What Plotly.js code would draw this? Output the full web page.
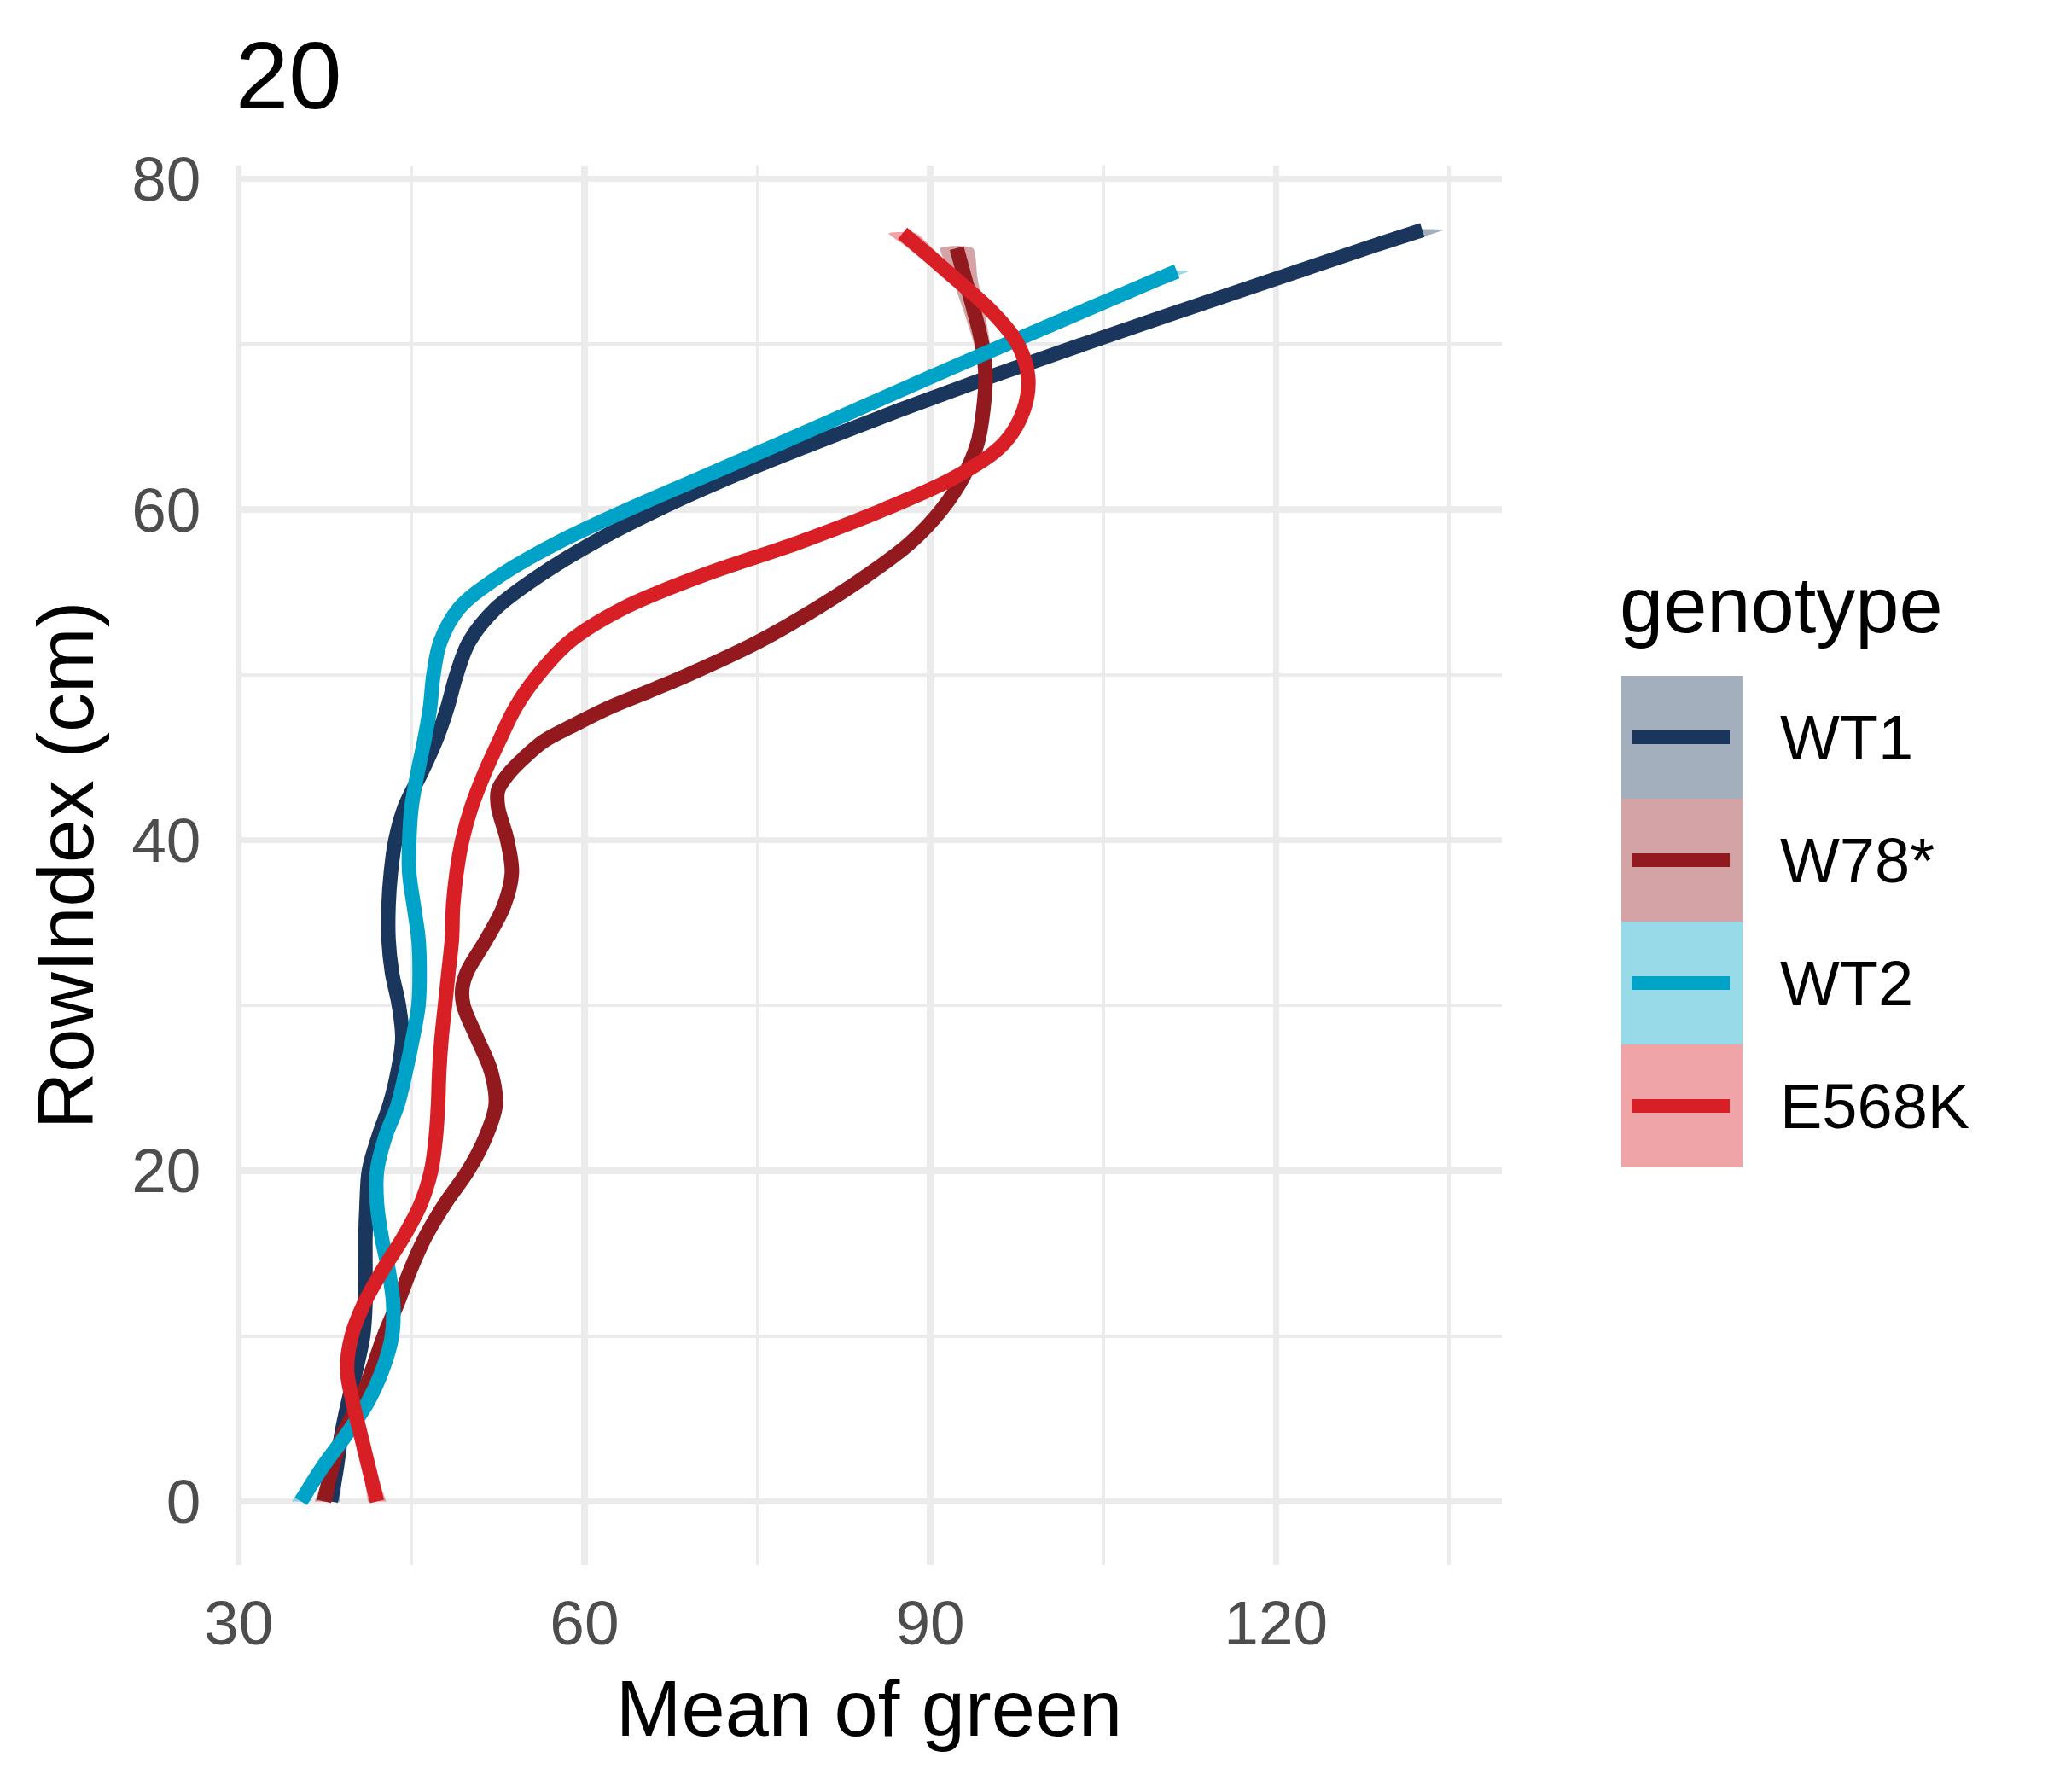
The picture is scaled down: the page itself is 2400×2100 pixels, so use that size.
<!DOCTYPE html>
<html>
<head>
<meta charset="utf-8">
<script src="https://cdn.plot.ly/plotly-3.0.1.min.js"></script>
<style>
  body { margin: 0; background: #ffffff; }
  #chart { width: 2400px; height: 2100px; }
</style>
</head>
<body>
<div id="chart"></div>
<script>
// smoothed profiles, one set of arrays per genotype
var genotypes = ["WT1", "W78*", "WT2", "E568K"];
var lineColors = ["#1b365d", "#921a1e", "#00a3c8", "#d81f26"];

var wt1Row = [0, 2, 4, 6, 8, 10, 12, 14, 16, 18, 20, 22, 24, 26, 28, 30, 32, 34, 36, 38,
    40, 42, 44, 46, 48, 50, 52, 54, 56, 58, 60, 62, 64, 66, 68, 70, 72, 74, 76, 76.9];
var wt1Green = [38.0, 38.5, 38.9, 39.5, 40.2, 40.8, 41.0, 41.0, 41.0, 41.1, 41.3, 42.1, 43.1, 43.8, 44.2, 43.9, 43.3, 43.0, 43.0, 43.2,
    43.6, 44.4, 45.8, 47.1, 48.1, 48.9, 50.0, 52.3, 56.1, 60.8, 66.4, 72.8, 79.9, 87.3, 95.1, 103.3, 111.7, 120.2, 128.7, 132.7];
var wt1Band = [0.8, 0.5, 0.4, 0.4, 0.4, 0.4, 0.4, 0.4, 0.4, 0.4, 0.4, 0.4, 0.4, 0.4, 0.4, 0.4, 0.4, 0.4, 0.4, 0.4,
    0.4, 0.4, 0.4, 0.4, 0.4, 0.4, 0.4, 0.4, 0.4, 0.4, 0.4, 0.4, 0.4, 0.4, 0.4, 0.6, 0.8, 1.1, 1.5, 1.8];

var w78Row = [0, 2, 4, 6, 8, 10, 12, 14, 16, 18, 20, 22, 24, 26, 28, 30, 31, 32, 34, 36, 38,
    40, 42, 43, 44, 45, 46, 47, 48, 49, 50, 52, 54, 56, 58, 60, 62, 64, 66, 68, 70, 72, 74, 75.8];
var w78Green = [37.4, 38.1, 39.0, 40.5, 41.6, 42.6, 43.8, 44.9, 46.2, 47.9, 49.9, 51.4, 52.3, 51.9, 50.7, 49.5, 49.4, 49.8, 51.5, 53.0, 53.7,
    53.3, 52.5, 52.5, 53.4, 54.8, 56.5, 59.2, 62.1, 65.6, 69.0, 75.1, 80.1, 84.5, 88.3, 91.0, 92.9, 94.1, 94.6, 94.8, 94.5, 93.8, 93.0, 92.3];
var w78Band = [0.8, 0.5, 0.4, 0.4, 0.4, 0.4, 0.4, 0.4, 0.4, 0.4, 0.4, 0.4, 0.4, 0.4, 0.4, 0.4, 0.4, 0.4, 0.4, 0.4, 0.4,
    0.4, 0.4, 0.4, 0.4, 0.4, 0.4, 0.4, 0.4, 0.4, 0.4, 0.4, 0.4, 0.4, 0.4, 0.4, 0.4, 0.4, 0.4, 0.5, 0.7, 0.9, 1.1, 1.4];

var wt2Row = [0, 2, 4, 6, 8, 10, 12, 14, 16, 18, 20, 22, 24, 26, 28, 30, 32, 34, 36, 38,
    40, 42, 44, 46, 48, 50, 52, 54, 56, 58, 60, 62, 64, 66, 68, 70, 72, 74, 74.4];
var wt2Green = [35.4, 37.2, 39.3, 41.2, 42.5, 43.3, 43.4, 43.0, 42.4, 42.0, 42.0, 42.7, 43.8, 44.5, 45.1, 45.6, 45.7, 45.6, 45.2, 44.8,
    44.8, 45.0, 45.5, 46.1, 46.6, 46.9, 47.5, 49.1, 52.7, 57.7, 63.8, 70.4, 77.0, 83.5, 90.0, 96.6, 103.3, 110.0, 111.4];
var wt2Band = [0.8, 0.5, 0.4, 0.4, 0.4, 0.4, 0.4, 0.4, 0.4, 0.4, 0.4, 0.4, 0.4, 0.4, 0.4, 0.4, 0.4, 0.4, 0.4, 0.4,
    0.4, 0.4, 0.4, 0.4, 0.4, 0.4, 0.4, 0.4, 0.4, 0.4, 0.4, 0.4, 0.4, 0.4, 0.4, 0.5, 0.7, 0.9, 1.0];

var e568kRow = [0, 2, 4, 6, 8, 10, 12, 14, 16, 18, 20, 22, 24, 26, 28, 30, 32, 34, 36, 38,
    40, 42, 44, 46, 48, 50, 52, 54, 56, 58, 60, 62, 64, 66, 68, 70, 72, 74, 76, 76.7];
var e568kGreen = [42.0, 41.3, 40.6, 39.9, 39.4, 39.8, 40.9, 42.5, 44.3, 45.8, 46.7, 47.1, 47.3, 47.4, 47.6, 47.9, 48.2, 48.5, 48.6, 48.9,
    49.4, 50.2, 51.3, 52.6, 54.0, 56.0, 58.7, 63.3, 70.2, 78.6, 86.0, 92.3, 96.4, 98.1, 98.5, 97.6, 95.3, 92.1, 88.8, 87.6];
var e568kBand = [0.8, 0.5, 0.4, 0.4, 0.4, 0.4, 0.4, 0.4, 0.4, 0.4, 0.4, 0.4, 0.4, 0.4, 0.4, 0.4, 0.4, 0.4, 0.4, 0.4,
    0.4, 0.4, 0.4, 0.4, 0.4, 0.4, 0.4, 0.4, 0.4, 0.4, 0.4, 0.4, 0.4, 0.4, 0.4, 0.4, 0.6, 0.8, 1.1, 1.2];

var xTicks = [30, 60, 90, 120];
var yTicks = [0, 20, 40, 60, 80];

var rows = [wt1Row, w78Row, wt2Row, e568kRow];
var greens = [wt1Green, w78Green, wt2Green, e568kGreen];
var bands = [wt1Band, w78Band, wt2Band, e568kBand];

var font = "Liberation Sans, Arial, sans-serif";

function hexToRgba(hex, a) {
    var r = parseInt(hex.substr(1, 2), 16);
    var g = parseInt(hex.substr(3, 2), 16);
    var b = parseInt(hex.substr(5, 2), 16);
    return "rgba(" + r + "," + g + "," + b + "," + a + ")";
}

// plot area in pixels (ggplot panel)
var L = 277, R = 1760, T = 194, B = 1834;
function px(x) { return (x - L) / (R - L); }
function py(y) { return (B - y) / (B - T); }

var traces = [];
for (var i = 0; i < genotypes.length; i++) {
    var ys = rows[i], xs = greens[i], se = bands[i];
    var bx = [], by = [];
    for (var k = 0; k < ys.length; k++) {
        bx.push(xs[k] - se[k]);
        by.push(ys[k]);
    }
    for (var k = ys.length - 1; k >= 0; k--) {
        bx.push(xs[k] + se[k]);
        by.push(ys[k]);
    }
    // ribbon first, then the line, group by group like geom_smooth
    traces.push({
        x: bx, y: by,
        type: "scatter", mode: "lines",
        fill: "toself",
        fillcolor: hexToRgba(lineColors[i], 0.4),
        line: {width: 0, shape: "spline", smoothing: 0.6},
        hoverinfo: "skip",
        showlegend: false
    });
    traces.push({
        x: xs, y: ys,
        type: "scatter", mode: "lines",
        name: genotypes[i],
        line: {color: lineColors[i], width: 17, shape: "spline", smoothing: 1},
        showlegend: false
    });
}

// legend drawn by hand: ggplot keys are big filled squares with a line across
var shapes = [], annotations = [];
var keyLeft = 1900, keyW = 142, keyTop = 792, keyH = 144;
for (var i = 0; i < genotypes.length; i++) {
    var keyY = keyTop + i * keyH;
    shapes.push({
        type: "rect", xref: "paper", yref: "paper",
        x0: px(keyLeft), x1: px(keyLeft + keyW),
        y0: py(keyY + keyH), y1: py(keyY),
        fillcolor: hexToRgba(lineColors[i], 0.4),
        line: {width: 0}
    });
    shapes.push({
        type: "line", xref: "paper", yref: "paper",
        x0: px(keyLeft + 12), x1: px(keyLeft + 127),
        y0: py(keyY + keyH / 2), y1: py(keyY + keyH / 2),
        line: {color: lineColors[i], width: 16}
    });
    annotations.push({
        text: genotypes[i], xref: "paper", yref: "paper",
        x: px(2084), y: py(keyY + keyH / 2),
        xanchor: "left", yanchor: "middle", showarrow: false,
        font: {family: font, size: 74, color: "#000000"}
    });
}
annotations.push({
    text: "genotype", xref: "paper", yref: "paper",
    x: px(1896), y: py(762),
    xanchor: "left", yanchor: "bottom", showarrow: false,
    font: {family: font, size: 92, color: "#000000"}
});

var layout = {
    width: 2400,
    height: 2100,
    paper_bgcolor: "#ffffff",
    plot_bgcolor: "#ffffff",
    margin: {l: L, r: 2400 - R, t: T, b: 2100 - B, pad: 0},
    title: {
        text: "20",
        font: {family: font, size: 112, color: "#000000"},
        xref: "container", yref: "container",
        x: 276 / 2400, xanchor: "left",
        y: 1 - 49 / 2100, yanchor: "top"
    },
    xaxis: {
        range: [29.8, 139.6],
        tickvals: xTicks,
        ticks: "outside", ticklen: 4, tickcolor: "rgba(0,0,0,0)",
        tickfont: {family: font, size: 73, color: "#4d4d4d"},
        showgrid: true, gridcolor: "#ebebeb", gridwidth: 7.5,
        minor: {dtick: 15, tick0: 45, showgrid: true, gridcolor: "#ebebeb", gridwidth: 3.8},
        zeroline: false, showline: false,
        title: {text: "Mean of green", standoff: 28,
            font: {family: font, size: 92, color: "#000000"}}
    },
    yaxis: {
        range: [-3.85, 80.8],
        tickvals: yTicks,
        ticks: "outside", ticklen: 26, tickcolor: "rgba(0,0,0,0)",
        tickfont: {family: font, size: 73, color: "#4d4d4d"},
        showgrid: true, gridcolor: "#ebebeb", gridwidth: 7.5,
        minor: {dtick: 10, tick0: 10, showgrid: true, gridcolor: "#ebebeb", gridwidth: 3.8},
        zeroline: false, showline: false,
        title: {text: "RowIndex (cm)", standoff: 13,
            font: {family: font, size: 92, color: "#000000"}}
    },
    showlegend: false,
    shapes: shapes,
    annotations: annotations
};

Plotly.newPlot("chart", traces, layout, {displayModeBar: false, staticPlot: true});
</script>
</body>
</html>
